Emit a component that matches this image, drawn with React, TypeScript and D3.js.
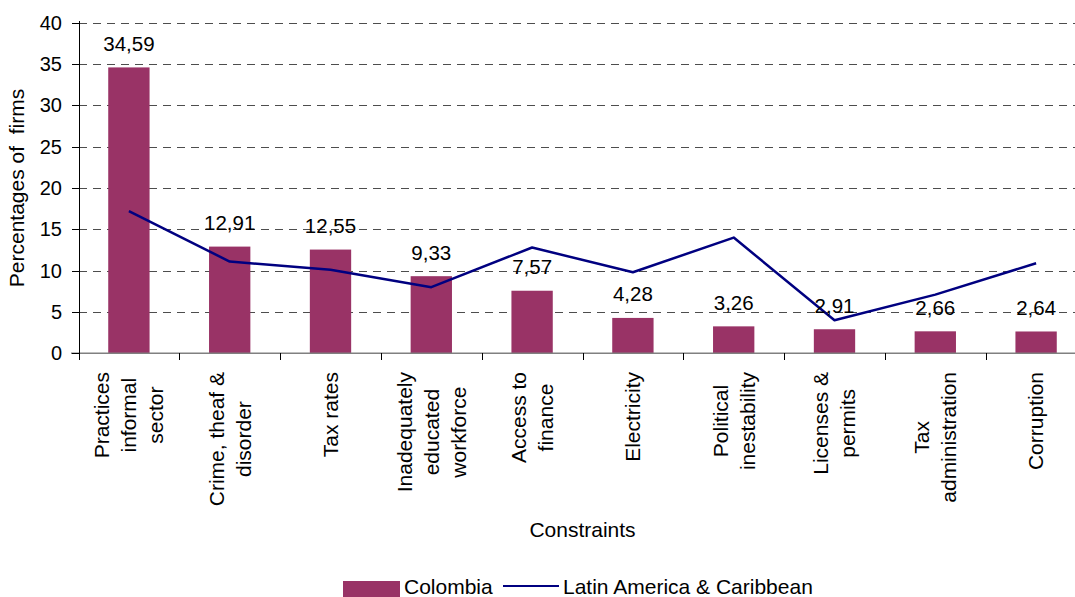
import React, { useEffect, useRef } from 'react';
import * as d3 from 'd3';

const categories: string[][] = [
  ['Practices', 'informal', 'sector'],
  ['Crime, theaf &', 'disorder'],
  ['Tax rates'],
  ['Inadequately', 'educated', 'workforce'],
  ['Access to', 'finance'],
  ['Electricity'],
  ['Political', 'inestability'],
  ['Licenses &', 'permits'],
  ['Tax', 'administration'],
  ['Corruption'],
];
const colombia = [34.59, 12.91, 12.55, 9.33, 7.57, 4.28, 3.26, 2.91, 2.66, 2.64];
const latinAmerica = [17.2, 11.1, 10.1, 8.0, 12.8, 9.8, 14.0, 4.0, 7.1, 10.9];
const yTicks = [0, 5, 10, 15, 20, 25, 30, 35, 40];

const W = 1075;
const H = 597;
const FONT = '"Liberation Sans", Arial, sans-serif';
const BAR = '#993366';
const LINE = '#000080';

const App: React.FC = () => {
  const svgRef = useRef<SVGSVGElement>(null);

  useEffect(() => {
    if (!svgRef.current) return;
    const svg = d3.select(svgRef.current);
    svg.selectAll('*').remove();

    const left = 78.5;
    const right = 1086.5;
    const top = 22.7;
    const bottom = 353.3;

    const keys = categories.map((c) => c.join(' '));
    const x = d3.scaleBand().domain(keys).range([left, right]).padding(0);
    const y = d3.scaleLinear().domain([0, 40]).range([bottom, top]);
    const barW = x.bandwidth() * 0.41;
    const cx = (i: number) => (x(keys[i]) as number) + x.bandwidth() / 2;
    const px = (v: number) => Math.round(v) + 0.5;

    // Gridlines
    svg.append('g')
      .selectAll('line')
      .data(yTicks.filter((t) => t > 0))
      .enter()
      .append('line')
      .attr('x1', left)
      .attr('x2', W)
      .attr('y1', (d) => px(y(d)))
      .attr('y2', (d) => px(y(d)))
      .attr('stroke', '#4d4d4d')
      .attr('stroke-width', 1)
      .attr('stroke-dasharray', '8,6')
      .attr('shape-rendering', 'crispEdges');

    // Bars
    svg.append('g')
      .selectAll('rect')
      .data(colombia)
      .enter()
      .append('rect')
      .attr('x', (_, i) => cx(i) - barW / 2)
      .attr('y', (d) => y(d))
      .attr('width', barW)
      .attr('height', (d) => bottom - y(d))
      .attr('fill', BAR);

    // X axis
    svg.append('line')
      .attr('x1', 71)
      .attr('x2', W)
      .attr('y1', bottom)
      .attr('y2', bottom)
      .attr('stroke', '#808080')
      .attr('stroke-width', 1.5);

    svg.append('g')
      .selectAll('line')
      .data(keys)
      .enter()
      .append('line')
      .attr('x1', (d) => px(x(d) as number))
      .attr('x2', (d) => px(x(d) as number))
      .attr('y1', bottom)
      .attr('y2', bottom + 7)
      .attr('stroke', '#000')
      .attr('stroke-width', 1)
      .attr('shape-rendering', 'crispEdges');

    // Y axis
    svg.append('line')
      .attr('x1', px(left))
      .attr('x2', px(left))
      .attr('y1', top - 2)
      .attr('y2', bottom + 7)
      .attr('stroke', '#000')
      .attr('stroke-width', 1)
      .attr('shape-rendering', 'crispEdges');

    const yAxis = svg.append('g');
    yAxis.selectAll('line')
      .data(yTicks)
      .enter()
      .append('line')
      .attr('x1', 72)
      .attr('x2', left)
      .attr('y1', (d) => px(y(d)))
      .attr('y2', (d) => px(y(d)))
      .attr('stroke', '#000')
      .attr('shape-rendering', 'crispEdges');
    yAxis.selectAll('text')
      .data(yTicks)
      .enter()
      .append('text')
      .attr('x', 62)
      .attr('y', (d) => y(d))
      .attr('dy', '0.35em')
      .attr('text-anchor', 'end')
      .style('font-family', FONT)
      .style('font-size', '20px')
      .text((d) => String(d));

    // Line series
    const line = d3.line<number>()
      .x((_, i) => cx(i))
      .y((d) => y(d));
    svg.append('path')
      .datum(latinAmerica)
      .attr('d', line)
      .attr('fill', 'none')
      .attr('stroke', LINE)
      .attr('stroke-width', 2.5)
      .attr('stroke-linejoin', 'round');

    // Data labels
    svg.append('g')
      .selectAll('text')
      .data(colombia)
      .enter()
      .append('text')
      .attr('x', (_, i) => cx(i))
      .attr('y', (d) => y(d) - 16.5)
      .attr('text-anchor', 'middle')
      .style('font-family', FONT)
      .style('font-size', '20.5px')
      .text((d) => d.toFixed(2).replace('.', ','));

    // Category labels (rotated, multi-line, centred)
    const labelTop = 372;
    const lineGap = 27;
    categories.forEach((lines, i) => {
      const g = svg.append('g');
      const texts = lines.map((ln) =>
        g.append('text')
          .attr('text-anchor', 'middle')
          .attr('dy', '0.35em')
          .style('font-family', FONT)
          .style('font-size', '21px')
          .text(ln)
      );
      const maxLen = d3.max(texts, (t) => (t.node() as SVGTextElement).getComputedTextLength()) || 0;
      texts.forEach((t, j) => {
        const off = (j - (lines.length - 1) / 2) * lineGap;
        t.attr('transform', `translate(${cx(i) + off},${labelTop + maxLen / 2}) rotate(-90)`);
      });
    });

    // Axis titles
    svg.append('text')
      .attr('transform', `translate(17,${(top + bottom) / 2}) rotate(-90)`)
      .attr('text-anchor', 'middle')
      .attr('dy', '0.35em')
      .style('font-family', FONT)
      .style('font-size', '21px')
      .style('white-space', 'pre')
      .text('Percentages of  firms');

    svg.append('text')
      .attr('x', (left + right) / 2)
      .attr('y', 537)
      .attr('text-anchor', 'middle')
      .style('font-family', FONT)
      .style('font-size', '21px')
      .text('Constraints');

    // Legend
    const legend = svg.append('g');
    legend.append('rect')
      .attr('x', 343)
      .attr('y', 581)
      .attr('width', 57)
      .attr('height', 18)
      .attr('fill', BAR);
    legend.append('text')
      .attr('x', 404)
      .attr('y', 594)
      .style('font-family', FONT)
      .style('font-size', '21px')
      .text('Colombia');
    legend.append('line')
      .attr('x1', 503)
      .attr('x2', 559)
      .attr('y1', 586)
      .attr('y2', 586)
      .attr('stroke', LINE)
      .attr('stroke-width', 2);
    legend.append('text')
      .attr('x', 563)
      .attr('y', 594)
      .style('font-family', FONT)
      .style('font-size', '21px')
      .text('Latin America & Caribbean');
  }, []);

  return (
    <svg
      ref={svgRef}
      width={W}
      height={H}
      style={{ position: 'absolute', left: 0, top: 0, display: 'block', background: '#fff' }}
    />
  );
};

export default App;
